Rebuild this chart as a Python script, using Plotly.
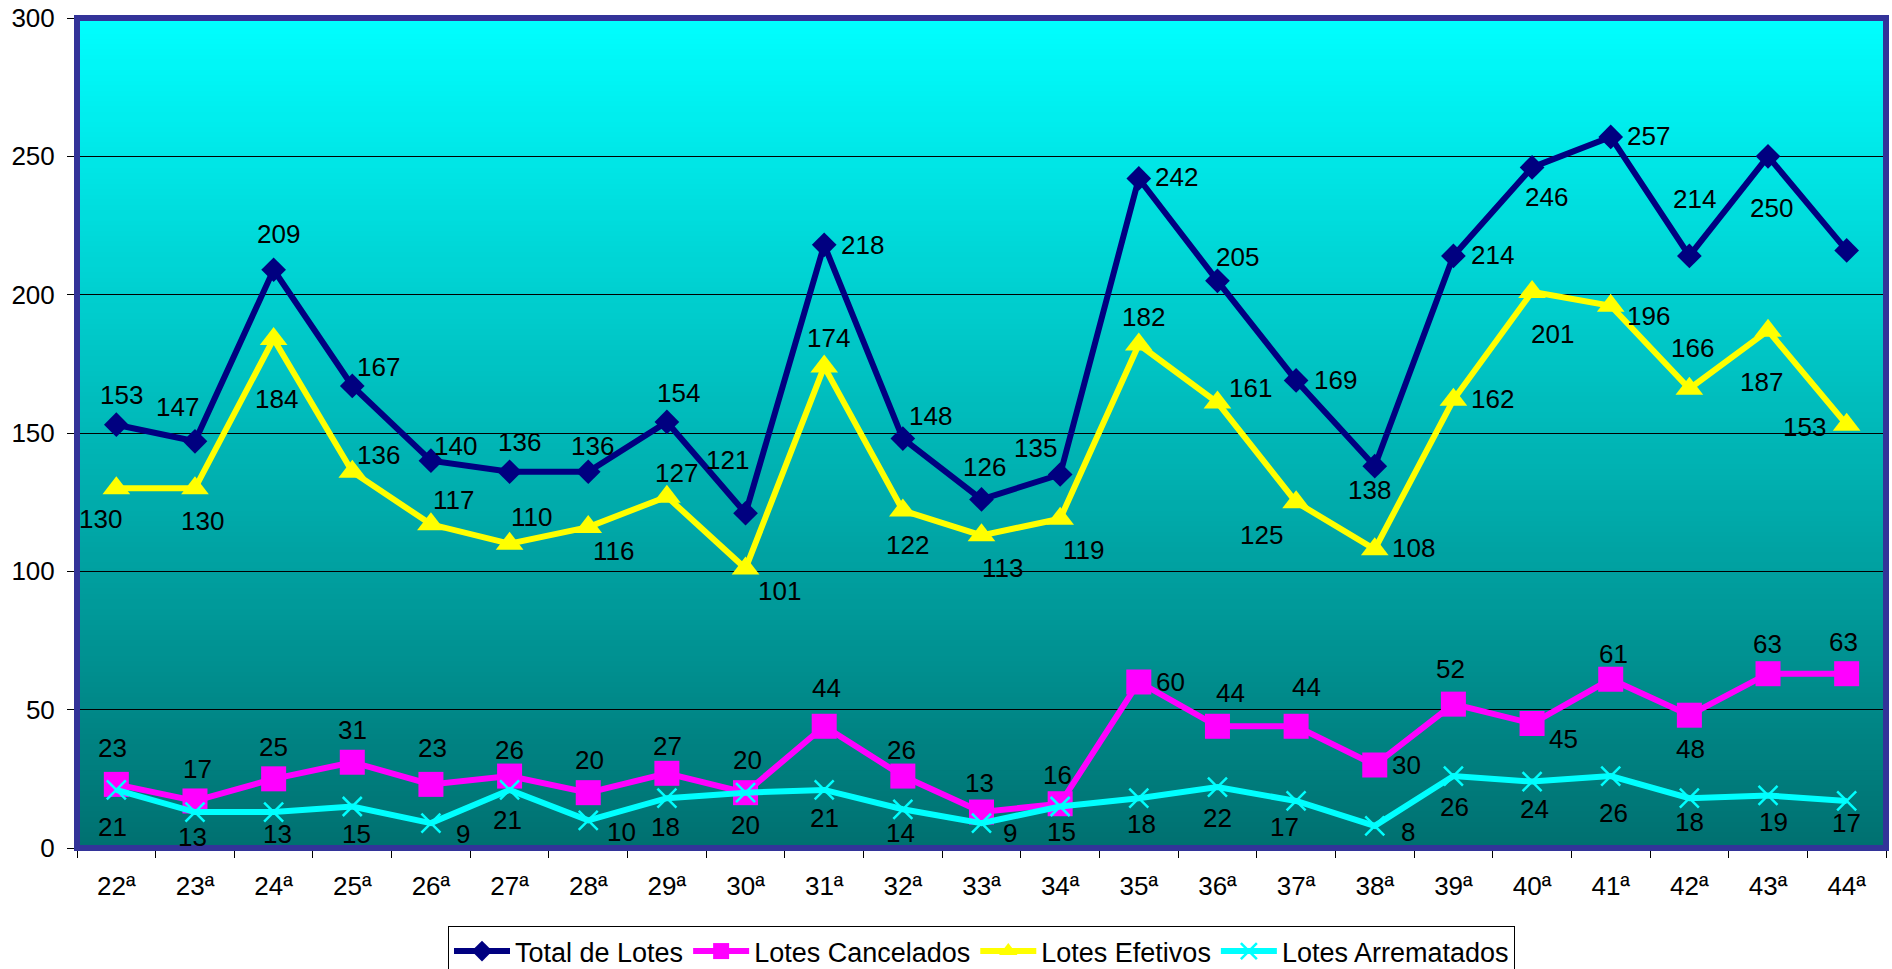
import plotly.graph_objects as go

categories = ["22ª", "23ª", "24ª", "25ª", "26ª", "27ª", "28ª", "29ª", "30ª", "31ª", "32ª", "33ª",
              "34ª", "35ª", "36ª", "37ª", "38ª", "39ª", "40ª", "41ª", "42ª", "43ª", "44ª"]

total_lotes = [153, 147, 209, 167, 140, 136, 136, 154, 121, 218, 148, 126, 135, 242, 205, 169, 138,
               214, 246, 257, 214, 250, 216]
lotes_cancelados = [23, 17, 25, 31, 23, 26, 20, 27, 20, 44, 26, 13, 16, 60, 44, 44, 30, 52, 45, 61,
                    48, 63, 63]
lotes_efetivos = [130, 130, 184, 136, 117, 110, 116, 127, 101, 174, 122, 113, 119, 182, 161, 125,
                  108, 162, 201, 196, 166, 187, 153]
lotes_arrematados = [21, 13, 13, 15, 9, 21, 10, 18, 20, 21, 14, 9, 15, 18, 22, 17, 8, 26, 24, 26,
                     18, 19, 17]

y_ticks = [0, 50, 100, 150, 200, 250, 300]

# label offsets in pixels (dx, dy screen-down), None = no label
off_total = [(5, -30), (-17, -34), (5, -36), (26, -19), (25, -15), (10, -30), (4, -26), (12, -29),
             (-18, -53), (38, 0), (28, -23), (3, -32), (-25, -27), (38, -1), (20, -24), (39, 0),
             (-5, 24), (39, -1), (14, 30), (38, -1), (5, -57), (3, 52), None]
off_efet = [(-16, 31), (8, 33), (3, 60), (26, -17), (23, -24), (22, -27), (25, 24), (10, -24),
            (34, 22), (4, -29), (5, 35), (21, 33), (23, 31), (5, -27), (33, -15), (-35, 33),
            (39, -1), (39, -1), (20, 42), (38, 10), (3, -41), (-7, 51), (-42, 2)]
off_canc = [(-4, -36), (3, -32), (0, -32), (0, -32), (2, -36), (0, -26), (1, -33), (1, -27),
            (2, -33), (2, -38), (-1, -26), (-2, -29), (-3, -29), (32, 0), (13, -33), (10, -39),
            (32, 0), (-3, -35), (31, 15), (3, -25), (1, 34), (-1, -30), (-3, -32)]
off_arr = [(-4, 37), (-2, 25), (4, 22), (4, 27), (32, 11), (-2, 30), (33, 12), (-1, 29), (0, 32),
           (0, 28), (-2, 24), (28, 10), (1, 25), (3, 26), (0, 31), (-12, 26), (33, 6), (1, 31),
           (2, 27), (3, 37), (0, 24), (5, 27), (0, 22)]

FONT = "Liberation Sans, Arial, sans-serif"

fig = go.Figure()

fig.add_trace(go.Scatter(
    x=categories, y=total_lotes, name="Total de Lotes", mode="lines+markers",
    line=dict(color="#000080", width=6),
    marker=dict(symbol="diamond", size=19, color="#000080", line=dict(width=0)),
))
fig.add_trace(go.Scatter(
    x=categories, y=lotes_cancelados, name="Lotes Cancelados", mode="lines+markers",
    line=dict(color="#FF00FF", width=6),
    marker=dict(symbol="square", size=25, color="#FF00FF", line=dict(width=0)),
))
fig.add_trace(go.Scatter(
    x=categories, y=lotes_efetivos, name="Lotes Efetivos", mode="lines+markers",
    line=dict(color="#FFFF00", width=6),
    marker=dict(symbol="triangle-up", size=24, color="#FFFF00", line=dict(width=0)),
))
fig.add_trace(go.Scatter(
    x=categories, y=lotes_arrematados, name="Lotes Arrematados", mode="lines+markers",
    line=dict(color="#00FFFF", width=6),
    marker=dict(symbol="x-thin", size=19, color="#00FFFF", line=dict(width=2.5, color="#00FFFF")),
))

annotations = []
for vals, offs in [(total_lotes, off_total), (lotes_efetivos, off_efet),
                   (lotes_cancelados, off_canc), (lotes_arrematados, off_arr)]:
    for c, v, o in zip(categories, vals, offs):
        if o is None:
            continue
        annotations.append(dict(
            x=c, y=v, xref="x", yref="y", text=str(v), showarrow=False,
            xshift=o[0], yshift=-o[1], xanchor="center", yanchor="middle",
            font=dict(family=FONT, size=26, color="black"),
        ))

# gradient background of plot area
shapes = []
n_strips = 160
top = (0, 255, 255)
bot = (0, 112, 112)
for i in range(n_strips):
    t = (i + 0.5) / n_strips  # 0 at bottom, 1 at top
    col = tuple(int(round(bot[k] + (top[k] - bot[k]) * t)) for k in range(3))
    shapes.append(dict(
        type="rect", xref="x domain", yref="y domain",
        x0=0, x1=1, y0=i / n_strips, y1=(i + 1) / n_strips + 0.002,
        fillcolor="rgb(%d,%d,%d)" % col, line=dict(width=0), layer="below",
    ))
# plot-area frame
shapes.append(dict(
    type="rect", xref="x domain", yref="y domain", x0=0, x1=1, y0=0, y1=1,
    line=dict(color="#333399", width=6), fillcolor="rgba(0,0,0,0)", layer="above",
))

fig.update_layout(
    width=1892, height=969,
    margin=dict(l=77, r=6, t=18, b=121, autoexpand=False),
    paper_bgcolor="white",
    plot_bgcolor="rgba(0,0,0,0)",
    font=dict(family=FONT, size=26, color="black"),
    showlegend=True,
    legend=dict(
        orientation="h", x=0.5, xanchor="center", y=-0.094, yanchor="top",
        bordercolor="black", borderwidth=1, bgcolor="white",
        font=dict(family=FONT, size=27, color="black"),
        itemwidth=56, tracegroupgap=0,
    ),
    shapes=shapes,
    annotations=annotations,
    xaxis=dict(
        type="category", categoryorder="array", categoryarray=categories,
        tickson="boundaries", ticks="outside", ticklen=9, tickcolor="black",
        showgrid=False, showline=True, linecolor="black", zeroline=False,
        tickfont=dict(family=FONT, size=26, color="black"),
        ticklabelstandoff=15,
        range=[-0.5, len(categories) - 0.5], fixedrange=True,
    ),
    yaxis=dict(
        range=[0, 300], tickvals=y_ticks, ticks="outside", ticklen=9, tickcolor="black",
        showgrid=True, gridcolor="black", gridwidth=1, showline=True, linecolor="black",
        zeroline=False, tickfont=dict(family=FONT, size=26, color="black"),
        ticklabelstandoff=7, fixedrange=True,
    ),
)

fig.write_html("out.html", config={"displayModeBar": False},
               post_script="document.body.style.margin='0';")
